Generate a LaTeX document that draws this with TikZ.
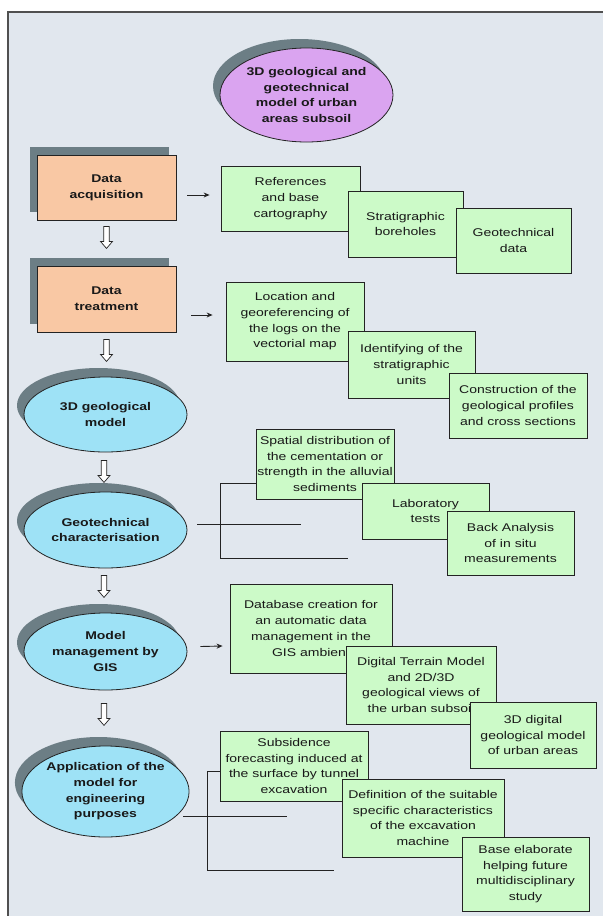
\documentclass[tikz,border=0pt]{standalone}
\usepackage{fontspec}
\setmainfont{Liberation Sans}[FakeStretch=1.25]
\usetikzlibrary{shapes.geometric,shadows,arrows.meta,calc}
\definecolor{bgc}{RGB}{225,231,238}
\definecolor{shadowc}{RGB}{108,126,133}
\definecolor{orangec}{RGB}{249,200,164}
\definecolor{greenc}{RGB}{204,250,200}
\definecolor{bluec}{RGB}{158,226,246}
\definecolor{purplec}{RGB}{218,164,240}
\definecolor{linec}{RGB}{35,35,35}
\definecolor{framec}{RGB}{80,80,80}
\definecolor{textc}{RGB}{25,25,25}
\newcommand\bxfont{\fontsize{11.2}{15.7}\selectfont}
\tikzset{
  gbox/.style={draw=linec, line width=0.8pt, fill=greenc, inner sep=0pt, align=center, font=\bxfont, text=textc},
  obox/.style={draw=linec, line width=0.9pt, fill=orangec, inner sep=0pt, align=center, font=\bxfont\bfseries, text=textc,
    drop shadow={shadow xshift=-7pt, shadow yshift=8pt, fill=shadowc, opacity=1, draw=none}},
  bell/.style={ellipse, draw=linec, line width=0.8pt, fill=bluec, inner sep=0pt, align=center, font=\bxfont\bfseries, text=textc,
    drop shadow={shadow xshift=-7pt, shadow yshift=9pt, fill=shadowc, opacity=1, draw=none}},
  pell/.style={bell, fill=purplec},
  sarrow/.style={draw=linec, line width=0.9pt, -{Stealth[length=6pt,width=5pt]}},
  bline/.style={draw=linec, line width=0.9pt},
  harrow/.pic={\draw[linec, line width=0.7pt, fill=white] (-2.8,0) -- (-2.8,15) -- (-6,15) -- (0,22) -- (6,15) -- (2.8,15) -- (2.8,0) -- cycle;}
}
\begin{document}
\begin{tikzpicture}[x=1pt, y=-1pt]
\useasboundingbox (0,0) rectangle (603,916);
\fill[bgc] (8,12) rectangle (603,916);
\draw[framec, line width=1.5pt] (8,916) -- (8,12) -- (603,12);

% main flow
\node[pell, minimum width=173, minimum height=94] (title) at (306.5,95) {3D geological and\\geotechnical\\model of urban\\areas subsoil};
\node[obox, minimum width=139, minimum height=65] (acq) at (106.5,187.5) {Data\\acquisition};
\node[obox, minimum width=139, minimum height=66] (treat) at (106.5,299) {Data\\treatment};
\node[bell, minimum width=163, minimum height=75] (geo3d) at (105.5,414.5) {3D geological\\model};
\node[bell, minimum width=163, minimum height=76] (geotech) at (105.5,530) {Geotechnical\\characterisation};
\node[bell, minimum width=163, minimum height=77] (model) at (105.5,651.5) {Model\\management by\\GIS};
\node[bell, minimum width=163, minimum height=91] (app) at (105.5,791.5) {Application of the\\model for\\engineering\\purposes};

% hollow arrows between main steps
\pic at ([yshift=-6pt]acq.south) {harrow};
\pic at ([yshift=-7pt]treat.south) {harrow};
\pic at ([shift={(-1.5pt,-8pt)}]geo3d.south) {harrow};
\pic at ([shift={(-1.5pt,-7pt)}]geotech.south) {harrow};
\pic at ([shift={(-1.5pt,-13pt)}]model.south) {harrow};

% bracket coordinates
\coordinate (gv1) at (220,483);
\coordinate (gv2) at (220,558);
\coordinate (gm1) at (197,524);
\coordinate (gm2) at (301,524);
\coordinate (gb2) at (348,558);
\coordinate (av1) at (207,771);
\coordinate (av2) at (207,870);
\coordinate (am1) at (183,816);
\coordinate (am2) at (287,816);
\coordinate (ab2) at (334,870);

% data acquisition group
\node[gbox, minimum width=139, minimum height=65] (ref) at (290.5,198.5) {References\\and base\\cartography};
\node[gbox, minimum width=115, minimum height=66] (strat) at (405.5,224) {Stratigraphic\\boreholes};
\node[gbox, minimum width=115, minimum height=65] (gdata) at (513.5,240.5) {Geotechnical\\data};
\draw[sarrow] ([shift={(11pt,-7.5pt)}]acq.east) -- ([shift={(-11pt,3.5pt)}]ref.west);

% data treatment group
\node[gbox, minimum width=138, minimum height=79] (loc) at (295,321.5) {Location and\\georeferencing of\\the logs on the\\vectorial map};
\node[gbox, minimum width=127, minimum height=67] (ident) at (411.5,364.5) {Identifying of the\\stratigraphic\\units};
\node[gbox, minimum width=138, minimum height=65] (constr) at (518,405.5) {Construction of the\\geological profiles\\and cross sections};
\draw[sarrow] ([shift={(15pt,-16pt)}]treat.east) -- ([shift={(-13pt,6.5pt)}]loc.west);

% geotechnical characterisation group
\draw[bline] (gm1) -- (gm2);
\draw[bline] (gv1) -- (gv2) -- (gb2);
\node[gbox, minimum width=138, minimum height=70] (spatial) at (325,464) {Spatial distribution of\\the cementation or\\strength in the alluvial\\sediments};
\draw[bline] (gv1) -- (spatial.west |- gv1);
\node[gbox, minimum width=127, minimum height=56] (lab) at (425.5,511) {Laboratory\\tests};
\node[gbox, minimum width=127, minimum height=64] (back) at (510.5,543) {Back Analysis\\of in situ\\measurements};

% model management group
\node[gbox, minimum width=162, minimum height=89] (db) at (311,628.5) {Database creation for\\an automatic data\\management in the\\GIS ambient};
\node[gbox, minimum width=150, minimum height=78] (dtm) at (421,685) {Digital Terrain Model\\and 2D/3D\\geological views of\\the urban subsoil};
\node[gbox, minimum width=126, minimum height=66] (d3) at (533,735) {3D digital\\geological model\\of urban areas};
\draw[sarrow] ([shift={(13pt,5pt)}]model.east) -- ([shift={(-7pt,-17.5pt)}]db.west);

% application group
\draw[bline] (am1) -- (am2);
\draw[bline] (av1) -- (av2) -- (ab2);
\node[gbox, minimum width=148, minimum height=70] (subs) at (294,766) {Subsidence\\forecasting induced at\\the surface by tunnel\\excavation};
\draw[bline] (av1) -- (subs.west |- av1);
\node[gbox, minimum width=162, minimum height=78] (def) at (423,818) {Definition of the suitable\\specific characteristics\\of the excavation\\machine};
\node[gbox, minimum width=127, minimum height=74] (base) at (525.5,874) {Base elaborate\\helping future\\multidisciplinary\\study};
\end{tikzpicture}
\end{document}
